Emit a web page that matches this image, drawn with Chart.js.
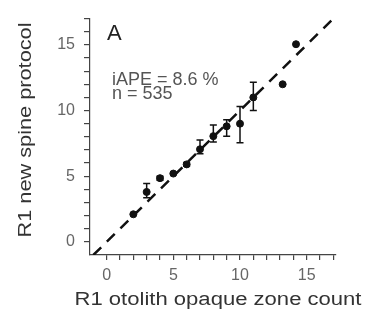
<!DOCTYPE html>
<html>
<head>
<meta charset="utf-8">
<script src="https://cdn.jsdelivr.net/npm/chart.js@4/dist/chart.umd.min.js"></script>
<style>
  html, body { margin: 0; padding: 0; background: #fff; }
  #wrap { width: 366px; height: 320px; position: relative; }
</style>
</head>
<body>
<div id="wrap"><canvas id="chart" width="366" height="320"></canvas></div>
<script>
// otolith count (x) vs mean count with new spine protocol (y)
const otolithCount = [2, 3, 4, 5, 6, 7, 8, 9, 10, 11, 13.2, 14.2];
const spineMean    = [2.1, 3.8, 4.85, 5.2, 5.9, 7.05, 8.05, 8.8, 9.0, 11.0, 12.0, 15.05];
const spineLow     = [null, 3.35, 4.7, null, 5.75, 6.7, 7.6, 8.05, 7.55, 10.0, null, null];
const spineHigh    = [null, 4.45, 5.0, null, 6.05, 7.75, 8.9, 9.3, 10.3, 12.15, null, null];
const oneToOne     = [-1, 17];
const tickValues   = [0, 1, 2, 3, 4, 5, 6, 7, 8, 9, 10, 11, 12, 13, 14, 15, 16, 17];
const labelEvery   = 5;

const FONT = "'Liberation Sans', Arial, sans-serif";

// draws a text squeezed/stretched to a given width along its reading direction
function fitText(ctx, text, cx, cy, width, rot) {
    ctx.save();
    ctx.translate(cx, cy);
    ctx.rotate(rot);
    const m = ctx.measureText(text).width;
    ctx.scale(width / m, 1);
    ctx.textAlign = 'center';
    ctx.textBaseline = 'middle';
    ctx.fillText(text, 0, 0);
    ctx.restore();
}

const errorBars = {
    id: 'errorBars',
    afterDatasetsDraw(chart) {
        const ctx = chart.ctx;
        const xs = chart.scales.x, ys = chart.scales.y;
        ctx.save();
        ctx.strokeStyle = '#111';
        ctx.lineWidth = 1.5;
        otolithCount.forEach((x, i) => {
            if (spineLow[i] == null) return;
            const px = xs.getPixelForValue(x);
            const top = ys.getPixelForValue(spineHigh[i]);
            const bot = ys.getPixelForValue(spineLow[i]);
            ctx.beginPath();
            ctx.moveTo(px, top); ctx.lineTo(px, bot);
            ctx.moveTo(px - 3.5, top); ctx.lineTo(px + 3.5, top);
            ctx.moveTo(px - 3.5, bot); ctx.lineTo(px + 3.5, bot);
            ctx.stroke();
        });
        ctx.restore();
    }
};

const labels = {
    id: 'labels',
    afterDraw(chart) {
        const ctx = chart.ctx;
        const a = chart.chartArea;
        ctx.save();
        ctx.fillStyle = '#222';
        ctx.font = '22px ' + FONT;
        ctx.textAlign = 'left';
        ctx.textBaseline = 'alphabetic';
        ctx.fillText('A', a.left + 17, a.top + 21);

        ctx.fillStyle = '#555';
        ctx.font = '18px ' + FONT;
        ctx.fillText('iAPE = 8.6 %', a.left + 22, a.top + 66);
        ctx.fillText('n = 535', a.left + 22, a.top + 80);

        ctx.fillStyle = '#333';
        ctx.font = '18px ' + FONT;
        fitText(ctx, 'R1 otolith opaque zone count', 218, 300, 287, 0);
        fitText(ctx, 'R1 new spine protocol', 26, 130, 215, -Math.PI / 2);
        ctx.restore();
    }
};

function tickLabel(v) {
    return v % labelEvery === 0 ? String(v) : '';
}

new Chart(document.getElementById('chart'), {
    type: 'scatter',
    data: {
        datasets: [{
            data: otolithCount.map((x, i) => ({ x: x, y: spineMean[i] })),
            backgroundColor: '#111',
            borderColor: '#111',
            pointRadius: 3.5
        }, {
            type: 'line',
            data: oneToOne.map(v => ({ x: v, y: v })),
            borderColor: '#111',
            borderWidth: 2.5,
            borderDash: [11, 8],
            pointRadius: 0,
            fill: false
        }]
    },
    options: {
        responsive: false,
        animation: false,
        layout: { padding: { top: 12.5, right: 30, left: 0, bottom: 0 } },
        plugins: {
            legend: { display: false },
            tooltip: { enabled: false }
        },
        scales: {
            x: {
                type: 'linear',
                min: -1.25,
                max: 17.2,
                afterBuildTicks: s => { s.ticks = tickValues.map(v => ({ value: v })); },
                afterFit: s => { s.height = 65; },
                grid: { drawOnChartArea: false, drawTicks: true, tickLength: 5, color: '#444', lineWidth: 1.2 },
                border: { display: true, color: '#444', width: 1.2 },
                ticks: { callback: tickLabel, padding: 6, color: '#666', font: { family: FONT, size: 16 }, maxRotation: 0, autoSkip: false }
            },
            y: {
                type: 'linear',
                min: -1,
                max: 17,
                afterBuildTicks: s => { s.ticks = tickValues.map(v => ({ value: v })); },
                afterFit: s => { s.width = 90; },
                grid: { drawOnChartArea: false, drawTicks: true, tickLength: 6, color: '#444', lineWidth: 1.2 },
                border: { display: true, color: '#444', width: 1.2 },
                ticks: { callback: tickLabel, padding: 9, color: '#666', font: { family: FONT, size: 16 }, autoSkip: false }
            }
        }
    },
    plugins: [errorBars, labels]
});
</script>
</body>
</html>
